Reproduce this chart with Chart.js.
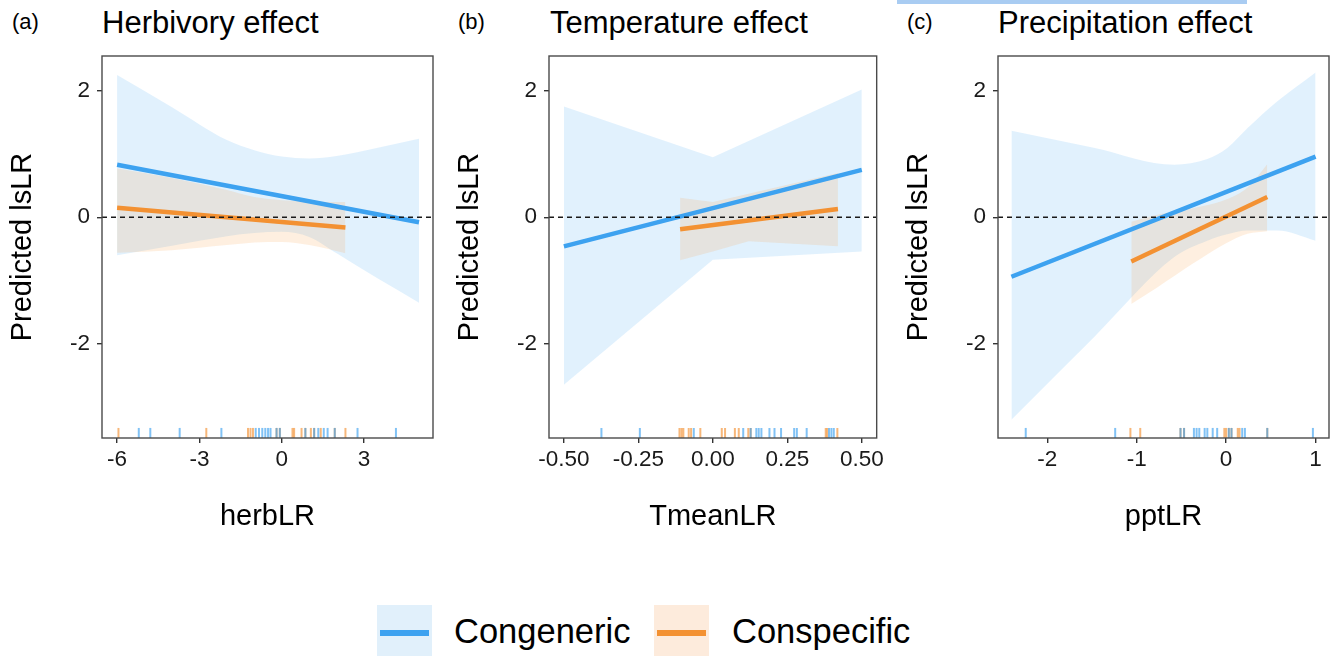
<!DOCTYPE html>
<html>
<head>
<meta charset="utf-8">
<title>Predicted lsLR effects</title>
<script src="https://cdn.jsdelivr.net/npm/chart.js@4.4.1/dist/chart.umd.min.js"></script>
<style>
    body {
        margin: 0;
        width: 1335px;
        height: 656px;
        position: relative;
        overflow: hidden;
        background: #ffffff;
        font-family: "Liberation Sans", Arial, sans-serif;
        color: #000000;
    }
    canvas { position: absolute; top: 0; }
    .tag { position: absolute; top: 11px; font-size: 22px; line-height: 22px; }
    .title { position: absolute; top: 7px; font-size: 31px; line-height: 31px; }
    .key { position: absolute; top: 605px; width: 55px; height: 55px; }
    .key span { position: absolute; left: 3px; top: 25px; width: 49px; height: 6px; }
    .key-label { position: absolute; top: 614px; font-size: 34.5px; line-height: 34.5px; }
    #top-bar { position: absolute; left: 897px; top: 0; width: 350px; height: 4px; background: #a9ccf2; }
</style>
</head>
<body>
<div id="top-bar"></div>

<div class="tag" style="left:12px">(a)</div>
<div class="title" style="left:102px">Herbivory effect</div>
<div class="tag" style="left:458px">(b)</div>
<div class="title" style="left:550px">Temperature effect</div>
<div class="tag" style="left:907px">(c)</div>
<div class="title" style="left:998px">Precipitation effect</div>

<canvas id="herbChart" width="440" height="540" style="left:0px"></canvas>
<canvas id="tempChart" width="440" height="540" style="left:447px"></canvas>
<canvas id="pptChart" width="440" height="540" style="left:896px"></canvas>

<div class="key" style="left:377px;background:#e1f0fb"><span style="background:#3da2f0"></span></div>
<div class="key-label" style="left:454px">Congeneric</div>
<div class="key" style="left:654px;background:#fdebdc"><span style="background:#f39132"></span></div>
<div class="key-label" style="left:732px">Conspecific</div>

<script>
// shared y axis
const yRange = [-3.49, 2.55];
const yTicks = [-2, 0, 2];
const yTickLabels = ['-2', '0', '2'];
const rugLevel = -3.41;
const zeroLine = [0, 0];

// (a) herbivory
const herbXRange = [-6.55, 5.51];
const herbTicks = [-6, -3, 0, 3];
const herbTickLabels = ['-6', '-3', '0', '3'];
const herbCongLineX = [-6, 5.0];
const herbCongLineY = [0.83, -0.08];
const herbSpecLineX = [-6, 2.32];
const herbSpecLineY = [0.15, -0.16];
const herbCongBandX = [-6, -4, -2, -1, 0, 1, 2, 3.5, 5];
const herbCongHi = [2.25, 1.74, 1.22, 1.06, 0.96, 0.93, 0.97, 1.10, 1.24];
const herbCongLo = [-0.60, -0.45, -0.30, -0.25, -0.23, -0.31, -0.57, -0.97, -1.35];
const herbSpecBandX = [-6, -4, -2, -1, 0, 1, 2.32];
const herbSpecHi = [0.77, 0.62, 0.43, 0.32, 0.27, 0.25, 0.24];
const herbSpecLo = [-0.56, -0.52, -0.44, -0.40, -0.39, -0.44, -0.57];
const herbCongRug = [-5.21, -4.79, -3.72, -2.20, -0.95, -0.83, -0.71, -0.60, -0.50, -0.41, -0.19, -0.07,
    0.86, 1.18, 1.33, 1.53, 1.67, 1.93, 2.76, 4.16];
const herbSpecRug = [-5.95, -2.75, -1.23, -1.14, -1.05, -0.19, -0.07, 0.39, 0.45, 0.72, 0.86, 1.06,
    1.18, 1.42, 1.93, 2.32];

// (b) temperature
const tempXRange = [-0.55, 0.55];
const tempTicks = [-0.5, -0.25, 0, 0.25, 0.5];
const tempTickLabels = ['-0.50', '-0.25', '0.00', '0.25', '0.50'];
const tempCongLineX = [-0.5, 0.5];
const tempCongLineY = [-0.46, 0.75];
const tempSpecLineX = [-0.11, 0.42];
const tempSpecLineY = [-0.19, 0.13];
const tempCongBandX = [-0.5, 0, 0.5];
const tempCongHi = [1.75, 0.95, 2.02];
const tempCongLo = [-2.65, -0.67, -0.54];
const tempSpecBandX = [-0.11, 0, 0.12, 0.42];
const tempSpecHi = [0.31, 0.24, 0.37, 0.70];
const tempSpecLo = [-0.68, -0.54, -0.38, -0.46];
const tempCongRug = [-0.374, -0.245, -0.064, 0.102, 0.127, 0.146, 0.154, 0.163, 0.19, 0.207, 0.229,
    0.273, 0.282, 0.315, 0.39, 0.398, 0.406];
const tempSpecRug = [-0.112, -0.105, -0.099, -0.081, -0.073, -0.042, 0.03, 0.041, 0.074, 0.087,
    0.119, 0.127, 0.379, 0.384, 0.418];

// (c) precipitation
const pptXRange = [-2.55, 1.15];
const pptTicks = [-2, -1, 0, 1];
const pptTickLabels = ['-2', '-1', '0', '1'];
const pptCongLineX = [-2.40, 1.0];
const pptCongLineY = [-0.94, 0.96];
const pptSpecLineX = [-1.06, 0.46];
const pptSpecLineY = [-0.70, 0.32];
const pptCongBandX = [-2.40, -1.48, -0.58, -0.21, 0.01, 0.24, 0.57, 1.0];
const pptCongHi = [1.37, 1.10, 0.83, 0.92, 1.09, 1.41, 1.83, 2.29];
const pptCongLo = [-3.20, -1.90, -0.63, -0.37, -0.27, -0.21, -0.21, -0.37];
const pptSpecBandX = [-1.06, -0.77, -0.38, 0.0, 0.24, 0.46];
const pptSpecHi = [-0.07, 0.04, 0.14, 0.28, 0.47, 0.84];
const pptSpecLo = [-1.37, -1.11, -0.74, -0.41, -0.26, -0.22];
const pptCongRug = [-2.24, -1.24, -0.51, -0.47, -0.36, -0.33, -0.30, -0.24, -0.21, -0.15, -0.10,
    0.03, 0.06, 0.18, 0.21, 0.46, 0.97];
const pptSpecRug = [-1.07, -0.96, -0.51, -0.47, -0.02, 0.0, 0.03, 0.06, 0.13, 0.15, 0.46];

const congColor = '#3da2f0';
const specColor = '#f39132';
const congFill = 'rgba(66, 165, 245, 0.16)';
const specFill = 'rgba(245, 146, 49, 0.15)';
const congRugColor = 'rgba(61, 162, 240, 0.65)';
const specRugColor = 'rgba(243, 145, 50, 0.65)';

Chart.defaults.font.family = '"Liberation Sans", Arial, sans-serif';

function pts(xs, ys) {
    return xs.map((x, i) => ({ x: x, y: ys[i] }));
}

// ggplot-like panel border on all four sides
const panelBorder = {
    id: 'panelBorder',
    afterDraw(chart) {
        const { ctx, chartArea: a } = chart;
        ctx.save();
        ctx.strokeStyle = '#4a4a4a';
        ctx.lineWidth = 1.4;
        ctx.strokeRect(a.left, a.top, a.right - a.left, a.bottom - a.top);
        ctx.restore();
    }
};

function makePanel(id, p) {
    const ctx = document.getElementById(id).getContext('2d');
    const band = { type: 'line', showLine: true, borderWidth: 0, pointRadius: 0, tension: p.bandTension, cubicInterpolationMode: p.bandMode };
    const rug = { type: 'line', showLine: false, pointStyle: 'line', rotation: 90, pointRadius: 5, pointBorderWidth: 2, order: 8 };

    return new Chart(ctx, {
        type: 'line',
        data: {
            datasets: [
                { ...band, data: pts(p.congBandX, p.congLo), fill: false, order: 10 },
                { ...band, data: pts(p.congBandX, p.congHi), backgroundColor: congFill, fill: '-1', order: 10 },
                { ...band, data: pts(p.specBandX, p.specLo), fill: false, order: 9 },
                { ...band, data: pts(p.specBandX, p.specHi), backgroundColor: specFill, fill: '-1', order: 9 },
                { ...rug, data: p.congRug.map(x => ({ x: x, y: rugLevel })), pointBorderColor: congRugColor },
                { ...rug, data: p.specRug.map(x => ({ x: x, y: rugLevel })), pointBorderColor: specRugColor },
                { type: 'line', data: pts(p.congLineX, p.congLineY), borderColor: congColor, borderWidth: 4.5, pointRadius: 0, fill: false, order: 3 },
                { type: 'line', data: pts(p.specLineX, p.specLineY), borderColor: specColor, borderWidth: 4.5, pointRadius: 0, fill: false, order: 2 },
                { type: 'line', data: pts(p.xRange, zeroLine), borderColor: '#1a1a1a', borderWidth: 1.6, borderDash: [5, 4], pointRadius: 0, fill: false, order: 1 }
            ]
        },
        options: {
            responsive: false,
            animation: false,
            events: [],
            layout: { padding: { top: 56, right: 7, left: 0, bottom: 0 } },
            plugins: {
                legend: { display: false },
                tooltip: { enabled: false }
            },
            scales: {
                x: {
                    type: 'linear',
                    min: p.xRange[0],
                    max: p.xRange[1],
                    afterBuildTicks: s => { s.ticks = p.xTicks.map(v => ({ value: v })); },
                    afterFit: s => { s.height = 102; },
                    ticks: {
                        callback: v => p.xTickLabels[p.xTicks.indexOf(v)],
                        font: { size: 22.5 },
                        color: '#1a1a1a',
                        padding: 3,
                        maxRotation: 0,
                        autoSkip: false
                    },
                    grid: { drawOnChartArea: false, drawTicks: true, tickLength: 5, color: '#333333', lineWidth: 1.4 },
                    border: { display: false },
                    title: { display: true, text: p.xTitle, font: { size: 29 }, color: '#000000', padding: { top: 0, bottom: 6 } }
                },
                y: {
                    type: 'linear',
                    min: yRange[0],
                    max: yRange[1],
                    afterBuildTicks: s => { s.ticks = yTicks.map(v => ({ value: v })); },
                    afterFit: s => { s.width = 102; },
                    ticks: {
                        callback: v => yTickLabels[yTicks.indexOf(v)],
                        font: { size: 22.5 },
                        color: '#1a1a1a',
                        padding: 7
                    },
                    grid: { drawOnChartArea: false, drawTicks: true, tickLength: 5, color: '#333333', lineWidth: 1.4 },
                    border: { display: false },
                    title: { display: true, text: 'Predicted lsLR', font: { size: 29 }, color: '#000000', padding: { top: 6, bottom: 0 } }
                }
            }
        },
        plugins: [panelBorder]
    });
}

makePanel('herbChart', {
    xRange: herbXRange, xTicks: herbTicks, xTickLabels: herbTickLabels, xTitle: 'herbLR',
    congLineX: herbCongLineX, congLineY: herbCongLineY, specLineX: herbSpecLineX, specLineY: herbSpecLineY,
    congBandX: herbCongBandX, congHi: herbCongHi, congLo: herbCongLo,
    specBandX: herbSpecBandX, specHi: herbSpecHi, specLo: herbSpecLo,
    congRug: herbCongRug, specRug: herbSpecRug,
    bandTension: 0.4, bandMode: 'monotone'
});

makePanel('tempChart', {
    xRange: tempXRange, xTicks: tempTicks, xTickLabels: tempTickLabels, xTitle: 'TmeanLR',
    congLineX: tempCongLineX, congLineY: tempCongLineY, specLineX: tempSpecLineX, specLineY: tempSpecLineY,
    congBandX: tempCongBandX, congHi: tempCongHi, congLo: tempCongLo,
    specBandX: tempSpecBandX, specHi: tempSpecHi, specLo: tempSpecLo,
    congRug: tempCongRug, specRug: tempSpecRug,
    bandTension: 0, bandMode: 'default'
});

makePanel('pptChart', {
    xRange: pptXRange, xTicks: pptTicks, xTickLabels: pptTickLabels, xTitle: 'pptLR',
    congLineX: pptCongLineX, congLineY: pptCongLineY, specLineX: pptSpecLineX, specLineY: pptSpecLineY,
    congBandX: pptCongBandX, congHi: pptCongHi, congLo: pptCongLo,
    specBandX: pptSpecBandX, specHi: pptSpecHi, specLo: pptSpecLo,
    congRug: pptCongRug, specRug: pptSpecRug,
    bandTension: 0.4, bandMode: 'monotone'
});
</script>
</body>
</html>
